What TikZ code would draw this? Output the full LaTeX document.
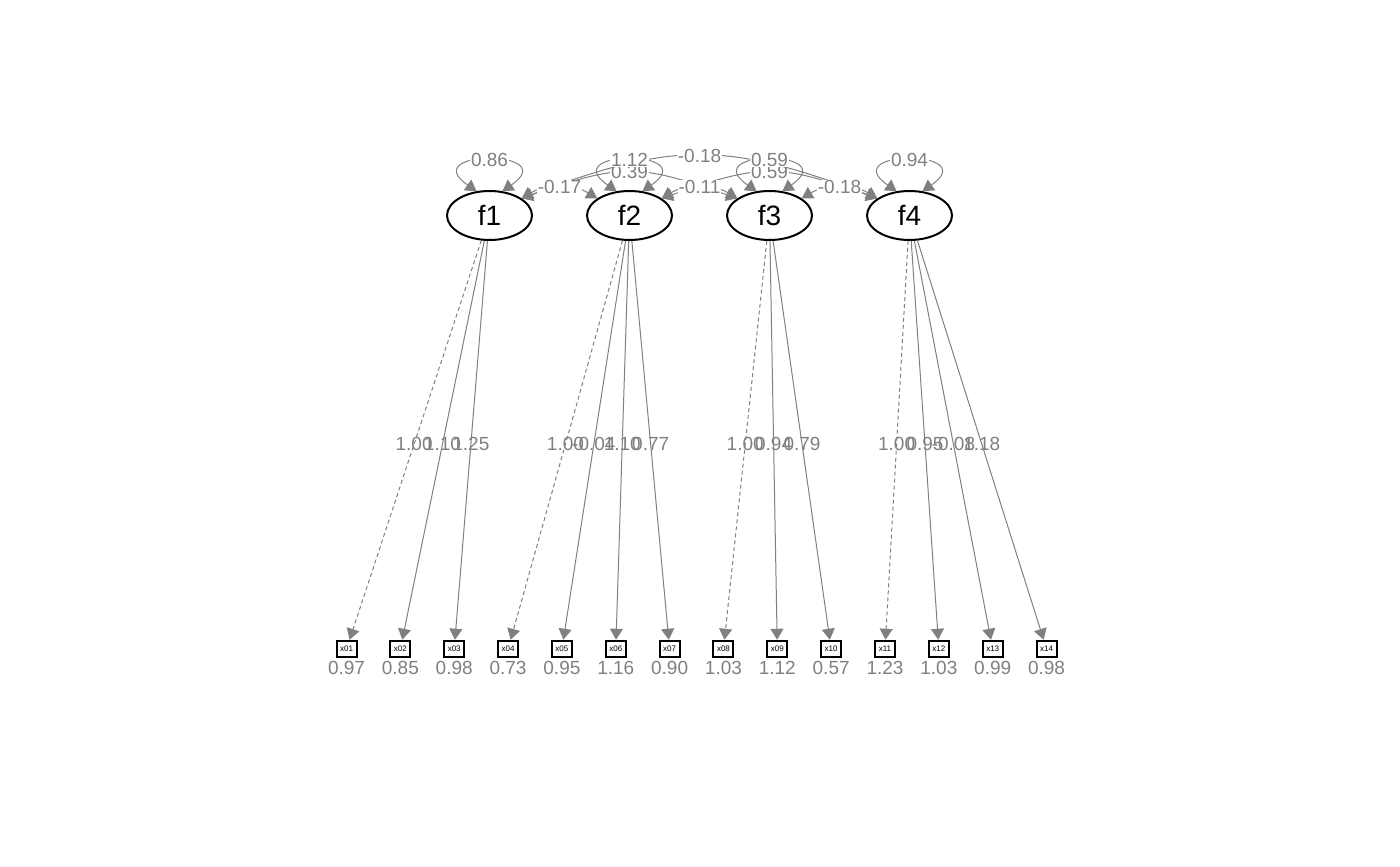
\documentclass[tikz,border=0pt]{standalone}
\usepackage{fontspec}
\setmainfont{Liberation Sans}
\usetikzlibrary{arrows.meta,shapes.geometric}

\definecolor{edgegray}{RGB}{128,128,128}

\tikzset{
  semtip/.tip={Triangle[length=5.5pt,width=6.5pt]},
  latent/.style={ellipse, draw=black, line width=1pt, minimum width=42.5pt, minimum height=24.5pt, inner sep=0pt, font=\fontsize{14}{16}\selectfont},
  manifest/.style={rectangle, draw=black, line width=1pt, minimum width=10pt, minimum height=8.25pt, inner sep=0pt, font=\fontsize{4}{5}\selectfont},
  resid/.style={text=edgegray, inner sep=0pt, font=\fontsize{9.5}{11}\selectfont},
  loading/.style={draw=edgegray, line width=0.5pt, -semtip},
  fixload/.style={loading, dash pattern=on 2pt off 1.5pt},
  covar/.style={draw=edgegray, line width=0.5pt, semtip-semtip},
  lbl/.style={text=edgegray, inner sep=0pt, font=\fontsize{9.5}{11}\selectfont},
  loadlbl/.style={lbl, pos=0.51},
  covlbl/.style={lbl, fill=white, inner sep=0.4pt}
}

\begin{document}
\begin{tikzpicture}[x=0.5pt, y=-0.5pt]

\useasboundingbox (0,0) rectangle (1400,866);

% Latent factors
\node[latent] (f1) at (489.5,215.5) {f1};
\node[latent] (f2) at (629.5,215.5) {f2};
\node[latent] (f3) at (769.5,215.5) {f3};
\node[latent] (f4) at (909.5,215.5) {f4};

% Observed indicators
\node[manifest] (x01) at (346.5,649) {x01};
\node[manifest] (x02) at (400.35,649) {x02};
\node[manifest] (x03) at (454.2,649) {x03};
\node[manifest] (x04) at (508.05,649) {x04};
\node[manifest] (x05) at (561.9,649) {x05};
\node[manifest] (x06) at (615.75,649) {x06};
\node[manifest] (x07) at (669.6,649) {x07};
\node[manifest] (x08) at (723.45,649) {x08};
\node[manifest] (x09) at (777.3,649) {x09};
\node[manifest] (x10) at (831.15,649) {x10};
\node[manifest] (x11) at (885,649) {x11};
\node[manifest] (x12) at (938.85,649) {x12};
\node[manifest] (x13) at (992.7,649) {x13};
\node[manifest] (x14) at (1046.55,649) {x14};

% Residual variances
\node[resid] (r01) at (346.5,667.5) {0.97};
\node[resid] (r02) at (400.35,667.5) {0.85};
\node[resid] (r03) at (454.2,667.5) {0.98};
\node[resid] (r04) at (508.05,667.5) {0.73};
\node[resid] (r05) at (561.9,667.5) {0.95};
\node[resid] (r06) at (615.75,667.5) {1.16};
\node[resid] (r07) at (669.6,667.5) {0.90};
\node[resid] (r08) at (723.45,667.5) {1.03};
\node[resid] (r09) at (777.3,667.5) {1.12};
\node[resid] (r10) at (831.15,667.5) {0.57};
\node[resid] (r11) at (885,667.5) {1.23};
\node[resid] (r12) at (938.85,667.5) {1.03};
\node[resid] (r13) at (992.7,667.5) {0.99};
\node[resid] (r14) at (1046.55,667.5) {0.98};

% Factor loadings
\draw[fixload] (f1) -- node[loadlbl] {1.00} (x01);
\draw[loading] (f1) -- node[loadlbl] {1.10} (x02);
\draw[loading] (f1) -- node[loadlbl] {1.25} (x03);

\draw[fixload] (f2) -- node[loadlbl] {1.00} (x04);
\draw[loading] (f2) -- node[loadlbl] {-0.04} (x05);
\draw[loading] (f2) -- node[loadlbl] {1.10} (x06);
\draw[loading] (f2) -- node[loadlbl] {0.77} (x07);

\draw[fixload] (f3) -- node[loadlbl] {1.00} (x08);
\draw[loading] (f3) -- node[loadlbl] {0.94} (x09);
\draw[loading] (f3) -- node[loadlbl] {0.79} (x10);

\draw[fixload] (f4) -- node[loadlbl] {1.00} (x11);
\draw[loading] (f4) -- node[loadlbl] {0.95} (x12);
\draw[loading] (f4) -- node[loadlbl] {-0.08} (x13);
\draw[loading] (f4) -- node[loadlbl] {1.18} (x14);

% Factor covariances
\draw[covar] (f1.28) .. controls +(100,-35) and +(-100,-35) .. node[covlbl] {0.39} (f3.152);
\draw[covar] (f2.28) .. controls +(100,-35) and +(-100,-35) .. node[covlbl] {0.59} (f4.152);
\draw[covar] (f1.28) .. controls +(150,-57) and +(-150,-57) .. node[covlbl] {-0.18} (f4.152);

\draw[covar] (f1.28) .. controls +(25,-15) and +(-25,-15) .. node[covlbl] {-0.17} (f2.152);
\draw[covar] (f2.28) .. controls +(25,-15) and +(-25,-15) .. node[covlbl] {-0.11} (f3.152);
\draw[covar] (f3.28) .. controls +(25,-15) and +(-25,-15) .. node[covlbl] {-0.18} (f4.152);

% Factor variances
\draw[covar] (f1.118) .. controls +(-61,-42) and +(61,-42) .. node[covlbl] {0.86} (f1.62);
\draw[covar] (f2.118) .. controls +(-61,-42) and +(61,-42) .. node[covlbl] {1.12} (f2.62);
\draw[covar] (f3.118) .. controls +(-61,-42) and +(61,-42) .. node[covlbl] {0.59} (f3.62);
\draw[covar] (f4.118) .. controls +(-61,-42) and +(61,-42) .. node[covlbl] {0.94} (f4.62);

\end{tikzpicture}
\end{document}
